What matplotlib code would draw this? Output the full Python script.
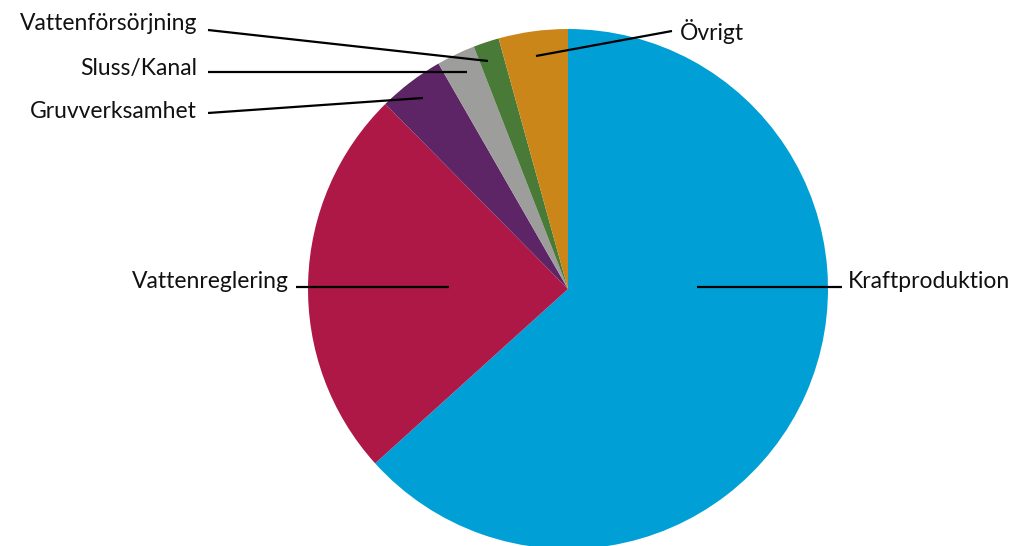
import matplotlib.pyplot as plt

# andelar per ändamål (procent)
kategorier = ['Kraftproduktion', 'Vattenreglering', 'Gruvverksamhet',
              'Sluss/Kanal', 'Vattenförsörjning', 'Övrigt']
andelar = [63.3, 24.3, 4.1, 2.4, 1.6, 4.3]
farger = ['#00A0D6', '#AE1846', '#5E2566', '#9D9D9C', '#4A7A38', '#CA8618']

# etiketter: (linje från, linje till, textposition, justering)
etiketter = {
    'Kraftproduktion': ((697, 287), (842, 287), (848, 281), 'left'),
    'Vattenreglering': ((449, 287), (296, 287), (289, 281), 'right'),
    'Gruvverksamhet': ((423, 98), (208, 113), (197, 111), 'right'),
    'Sluss/Kanal': ((467, 72), (208, 72), (197, 69), 'right'),
    'Vattenförsörjning': ((488, 61), (208, 30), (197, 24), 'right'),
    'Övrigt': ((536, 56), (672, 31), (680, 31), 'left'),
}

plt.rcParams['font.family'] = ['Lato', 'DejaVu Sans']

fig = plt.figure(figsize=(10.19, 5.46), dpi=100)
ax = fig.add_axes([0, 0, 1, 1])
H = 546

ax.pie(andelar, colors=farger, startangle=90, counterclock=False,
       center=(568, H - 289), radius=260,
       wedgeprops=dict(linewidth=0))

for namn in kategorier:
    p0, p1, pt, ha = etiketter[namn]
    ax.plot([p0[0], p1[0]], [H - p0[1], H - p1[1]], color='black', lw=1.6,
            solid_capstyle='butt')
    ax.text(pt[0], H - pt[1], namn, ha=ha, va='center', fontsize=16.5,
            color='#111111')

ax.set_xlim(0, 1019)
ax.set_ylim(0, H)
ax.set_aspect('equal')
ax.axis('off')

fig.savefig('out.png', dpi=100)
